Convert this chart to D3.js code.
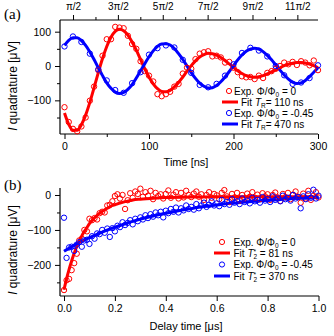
<!DOCTYPE html>
<html>
<head>
<meta charset="utf-8">
<script src="https://d3js.org/d3.v7.min.js"></script>
<style>
  body { margin: 0; background: #fff; }
  svg text { font-family: "Liberation Sans", Arial, sans-serif; fill: #000; }
  .serif { font-family: "Liberation Serif", "Times New Roman", serif; }
</style>
</head>
<body>
<svg width="334" height="336"></svg>
<script>
// ---- panel (a): Rabi-like oscillations, time in ns ----
var stepRedA = 5, stepBlueA = 10;
var redDataA = [-120,-163,-183,-190,-176,-150,-101,-60,-12,30,78,78,114,112,110,88,64,50,14,-15,
  -28,-45,-82,-88,-82,-75,-60,-52,-22,-5,-8,20,36,40,43,28,30,25,10,12,
  -5,-18,-30,-33,-32,-38,-28,-35,-20,-15,-8,0,10,5,12,3,14,10,2,16,-12];
var blueDataA = [57,86,70,36,-10,-42,-70,-78,-50,-18,33,52,60,54,18,-20,-55,-62,-52,-28,
  5,38,53,45,28,0,-27,-52,-48,-35,2];
var redFitA = [-137,-170,-187,-187,-171,-143,-106,-63,-19,22,57,84,101,107,103,90,70,46,19,-8,
  -32,-52,-66,-74,-75,-71,-61,-48,-32,-15,1,15,26,33,37,36,32,25,16,6,
  -4,-14,-22,-28,-31,-33,-31,-28,-23,-17,-11,-5,1,5,8,10,10,9,6,1,-5];
var blueFitA = [60,75,82,82,74,60,41,19,-5,-28,-49,-65,-76,-80,-77,-68,-54,-35,-14,7,
  27,44,57,64,65,61,51,36,19,0,-19,-36,-50,-59,-64,-63,-57,-46,-32,-16,
  1,18,32,43,49,52,49,42,31,18,3,-12,-26,-38,-47,-51,-49,-42,-31,-18,-5];

var xTicksA = [0,100,200,300], xMinorA = [50,150,250];
var yTicksA = [-100,0,100], yMinorA = [-150,-50,50];
var phaseTicks = [0.5,1.5,2.5,3.5,4.5,5.5];
var phaseLabels = ["π/2","3π/2","5π/2","7π/2","9π/2","11π/2"];
var phaseMinor = [1,2,3,4,5];

// ---- panel (b): Ramsey decay, delay in us ----
var stepB = 0.01;
var redDataB = [-272,-244,-240,-215,-195,-168,-130,-125,-100,-104,-68,-72,-66,-70,-52,-48,-50,-30,-28,-18,
  -3,2,-10,0,-40,-15,5,-8,10,3,18,-5,8,-2,12,-12,6,-3,2,-10,
  3,13,-8,1,8,-10,6,-7,12,0,-6,4,10,-5,2,-14,0,8,-8,3,
  -1,-12,6,14,-4,-20,3,-7,6,-16,0,-10,4,-5,8,-8,1,-12,5,-4,
  2,-14,0,7,-7,-17,3,-6,6,-12,1,10,-5,-22,4,-10,12,-14,-2,8,-7];
var blueDataB = [-65,-180,-150,-148,-160,-142,-135,-148,-130,-128,-140,-118,-125,-110,-112,-100,-108,-96,-120,-95,
  -104,-88,-92,-78,-86,-80,-72,-84,-68,-75,-64,-70,-58,-66,-55,-62,-50,-58,-48,-64,
  -45,-52,-40,-48,-36,-50,-38,-44,-30,-40,-34,-42,-26,-38,-30,-22,-34,-28,-18,-30,
  -24,-32,-14,-26,-20,-28,-12,-22,-18,-26,-10,-20,-16,-24,-8,-18,-14,-22,-6,-16,
  -12,-20,-4,-14,-10,-18,-2,-12,-8,-16,0,-10,-6,-38,-4,-12,2,-8,15,-10,-2];
var redFitTimesB = [0,0.01,0.02,0.03,0.04,0.05,0.06,0.07,0.08,0.09,0.1,0.11,0.12,0.13,0.14,0.15,0.16,0.17,0.18,0.19,
  0.2,0.22,0.24,0.26,0.28,0.3,0.35,0.4,0.5,0.6,0.7,0.8,0.9,1.0];
var redFitB = [-271,-240,-213,-189,-167,-148,-132,-117,-104,-93,-82,-73,-65,-58,-52,-47,-42,-38,-34,-30,
  -28,-23,-19,-16,-13,-12,-9,-7,-6,-5,-5,-5,-5,-5];
var blueFitTimesB = [0,0.05,0.1,0.15,0.2,0.25,0.3,0.35,0.4,0.45,0.5,0.55,0.6,0.65,0.7,0.75,0.8,0.85,0.9,0.95,1.0];
var blueFitB = [-161,-140,-122,-106,-92,-80,-69,-60,-52,-45,-39,-33,-29,-24,-21,-18,-15,-13,-10,-9,-7];

var xTicksB = [0,0.2,0.4,0.6,0.8,1.0];
var yTicksB = [-200,-100,0], yMinorB = [-250,-150,-50];

var red = "#ff0000", blue = "#0000ff";

var svg = d3.select("svg");

var xA = d3.scaleLinear().domain([0, 300]).range([64.5, 318]);
var yA = d3.scaleLinear().domain([-198, 134]).range([134, 20]);
var phaseA = d3.scaleLinear().domain([0.31, 5.96]).range([64.5, 318]);
var xB = d3.scaleLinear().domain([0, 1]).range([64, 318.5]);
var yB = d3.scaleLinear().domain([-289, 20]).range([296, 188]);

function cleanAxis(g, size) {
  g.select(".domain").remove();
  g.selectAll("line").attr("stroke", "#000").attr("stroke-width", 1);
  g.selectAll("text").attr("font-size", size).attr("font-family", null);
}

function axisLine(x1, y1, x2, y2) {
  svg.append("line").attr("x1", x1).attr("y1", y1).attr("x2", x2).attr("y2", y2)
    .attr("stroke", "#000").attr("stroke-width", 1.2);
}

function richText(x, y, parts, size, anchor) {
  var t = svg.append("text").attr("x", x).attr("y", y).attr("font-size", size);
  if (anchor) t.attr("text-anchor", anchor);
  var shift = 0;
  parts.forEach(function(p) {
    var target = p.sub ? size * 0.22 : p.sup ? -size * 0.3 : 0;
    var s = t.append("tspan").attr("dy", target - shift).text(p.t);
    shift = target;
    if (p.sub || p.sup) s.attr("font-size", size * 0.65);
    if (p.it) s.attr("font-style", "italic");
    if (p.dx) s.attr("dx", p.dx);
  });
  return t;
}

// ---------- panel (a) ----------
axisLine(60, 20, 60, 134);
axisLine(60, 134, 318, 134);
axisLine(60, 20, 318, 20);

svg.append("g").attr("transform", "translate(60,0)")
  .call(d3.axisLeft(yA).tickValues(yMinorA).tickSize(3).tickFormat(""))
  .call(cleanAxis, 10.5);
svg.append("g").attr("transform", "translate(60,0)")
  .call(d3.axisLeft(yA).tickValues(yTicksA).tickSize(5).tickPadding(4))
  .call(cleanAxis, 10.5);
svg.append("g").attr("transform", "translate(0,134)")
  .call(d3.axisBottom(xA).tickValues(xMinorA).tickSize(3).tickFormat(""))
  .call(cleanAxis, 10.5);
svg.append("g").attr("transform", "translate(0,134)")
  .call(d3.axisBottom(xA).tickValues(xTicksA).tickSize(5).tickPadding(4))
  .call(cleanAxis, 10.5);
svg.append("g").attr("transform", "translate(0,20)")
  .call(d3.axisTop(phaseA).tickValues(phaseMinor).tickSize(3).tickFormat(""))
  .call(cleanAxis, 10);
svg.append("g").attr("class", "serif").attr("transform", "translate(0,20)")
  .call(d3.axisTop(phaseA).tickValues(phaseTicks).tickSize(5).tickPadding(5)
    .tickFormat(function(d, i) { return phaseLabels[i]; }))
  .call(cleanAxis, 10);

var lineA = d3.line()
  .x(function(d, i) { return xA(i * stepRedA); })
  .y(function(d) { return yA(d); })
  .curve(d3.curveMonotoneX);

svg.append("path").datum(redFitA).attr("d", lineA)
  .attr("fill", "none").attr("stroke", red).attr("stroke-width", 3);
svg.append("path").datum(blueFitA).attr("d", lineA)
  .attr("fill", "none").attr("stroke", blue).attr("stroke-width", 3);

svg.append("g").selectAll("circle").data(redDataA).enter().append("circle")
  .attr("cx", function(d, i) { return xA(i * stepRedA); })
  .attr("cy", function(d) { return yA(d); })
  .attr("r", 2.7).attr("fill", "none").attr("stroke", red).attr("stroke-width", 1);
svg.append("g").selectAll("circle").data(blueDataA).enter().append("circle")
  .attr("cx", function(d, i) { return xA(i * stepBlueA); })
  .attr("cy", function(d) { return yA(d); })
  .attr("r", 2.7).attr("fill", "none").attr("stroke", blue).attr("stroke-width", 1);

svg.append("text").attr("class", "serif").attr("x", 4).attr("y", 19)
  .attr("font-size", 15).text("(a)");
richText(0, 0, [{t: "I", it: true}, {t: " quadrature [μV]"}], 12, "middle")
  .attr("transform", "translate(17,86) rotate(-90)");
svg.append("text").attr("x", 186).attr("y", 166).attr("text-anchor", "middle")
  .attr("font-size", 11).text("Time [ns]");

// legend (a)
svg.append("circle").attr("cx", 229).attr("cy", 91).attr("r", 2.6)
  .attr("fill", "none").attr("stroke", red);
richText(234, 94.5, [{t: "Exp. Φ/Φ"}, {t: "0", sub: true}, {t: " = 0"}], 10);
svg.append("line").attr("x1", 222).attr("x2", 238).attr("y1", 102).attr("y2", 102)
  .attr("stroke", red).attr("stroke-width", 3);
richText(241, 105.5, [{t: "Fit "}, {t: "T", it: true}, {t: "R", sub: true}, {t: "= 110 ns"}], 10);
svg.append("circle").attr("cx", 229).attr("cy", 113).attr("r", 2.6)
  .attr("fill", "none").attr("stroke", blue);
richText(234, 116.5, [{t: "Exp. Φ/Φ"}, {t: "0", sub: true}, {t: " = -0.45"}], 10);
svg.append("line").attr("x1", 222).attr("x2", 238).attr("y1", 124).attr("y2", 124)
  .attr("stroke", blue).attr("stroke-width", 3);
richText(241, 127.5, [{t: "Fit "}, {t: "T", it: true}, {t: "R", sub: true}, {t: "= 470 ns"}], 10);

// ---------- panel (b) ----------
axisLine(60, 188, 60, 296);
axisLine(60, 296, 319, 296);

svg.append("g").attr("transform", "translate(60,0)")
  .call(d3.axisLeft(yB).tickValues(yMinorB).tickSize(3).tickFormat(""))
  .call(cleanAxis, 10.5);
svg.append("g").attr("transform", "translate(60,0)")
  .call(d3.axisLeft(yB).tickValues(yTicksB).tickSize(5).tickPadding(4))
  .call(cleanAxis, 10.5);
svg.append("g").attr("transform", "translate(0,296)")
  .call(d3.axisBottom(xB).tickValues(xTicksB).tickSize(5).tickPadding(4)
    .tickFormat(d3.format(".1f")))
  .call(cleanAxis, 10.5);

var lineRedB = d3.line()
  .x(function(d, i) { return xB(redFitTimesB[i]); })
  .y(function(d) { return yB(d); })
  .curve(d3.curveMonotoneX);
var lineBlueB = d3.line()
  .x(function(d, i) { return xB(blueFitTimesB[i]); })
  .y(function(d) { return yB(d); })
  .curve(d3.curveMonotoneX);

svg.append("path").datum(redFitB).attr("d", lineRedB)
  .attr("fill", "none").attr("stroke", red).attr("stroke-width", 3);
svg.append("path").datum(blueFitB).attr("d", lineBlueB)
  .attr("fill", "none").attr("stroke", blue).attr("stroke-width", 3);

svg.append("g").selectAll("circle").data(redDataB).enter().append("circle")
  .attr("cx", function(d, i) { return xB(i * stepB); })
  .attr("cy", function(d) { return yB(d); })
  .attr("r", 2.7).attr("fill", "none").attr("stroke", red).attr("stroke-width", 1);
svg.append("g").selectAll("circle").data(blueDataB).enter().append("circle")
  .attr("cx", function(d, i) { return xB(i * stepB); })
  .attr("cy", function(d) { return yB(d); })
  .attr("r", 2.7).attr("fill", "none").attr("stroke", blue).attr("stroke-width", 1);

svg.append("text").attr("class", "serif").attr("x", 4).attr("y", 190)
  .attr("font-size", 15).text("(b)");
richText(0, 0, [{t: "I", it: true}, {t: " quadrature [μV]"}], 12, "middle")
  .attr("transform", "translate(17,250) rotate(-90)");
svg.append("text").attr("x", 186).attr("y", 330).attr("text-anchor", "middle")
  .attr("font-size", 11).text("Delay time [μs]");

// legend (b)
svg.append("circle").attr("cx", 222).attr("cy", 242).attr("r", 2.6)
  .attr("fill", "none").attr("stroke", red);
richText(233.5, 245.5, [{t: "Exp. Φ/Φ"}, {t: "0", sub: true}, {t: " = 0"}], 10);
svg.append("line").attr("x1", 214).attr("x2", 230).attr("y1", 253).attr("y2", 253)
  .attr("stroke", red).attr("stroke-width", 3);
richText(233.5, 256.5, [{t: "Fit "}, {t: "T", it: true}, {t: "*", sup: true}, {t: "2", sub: true, dx: -2.6}, {t: " = 81 ns"}], 10);
svg.append("circle").attr("cx", 222).attr("cy", 264.5).attr("r", 2.6)
  .attr("fill", "none").attr("stroke", blue);
richText(233.5, 268, [{t: "Exp. Φ/Φ"}, {t: "0", sub: true}, {t: " = -0.45"}], 10);
svg.append("line").attr("x1", 214).attr("x2", 230).attr("y1", 276).attr("y2", 276)
  .attr("stroke", blue).attr("stroke-width", 3);
richText(233.5, 279.5, [{t: "Fit "}, {t: "T", it: true}, {t: "*", sup: true}, {t: "2", sub: true, dx: -2.6}, {t: " = 370 ns"}], 10);
</script>
</body>
</html>
